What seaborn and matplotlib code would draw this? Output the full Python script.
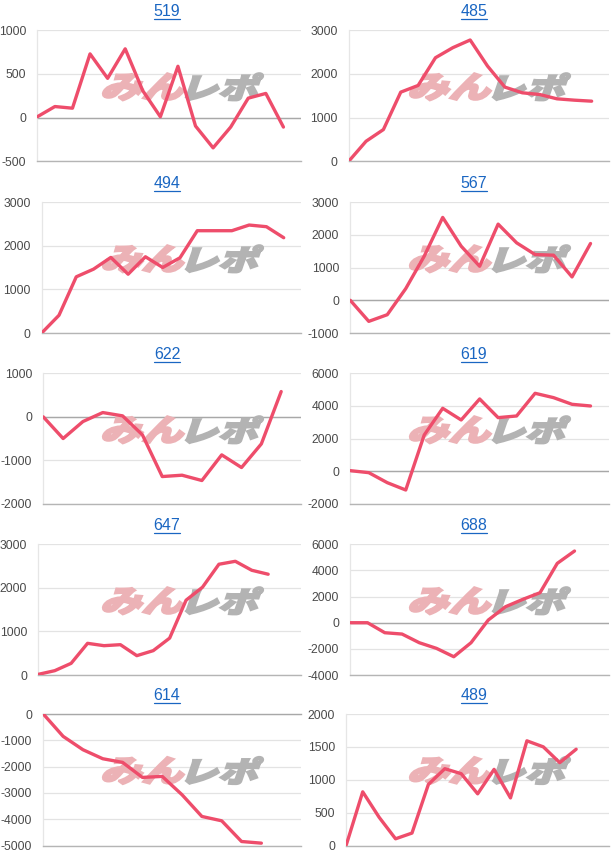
import numpy as np
import pandas as pd
import matplotlib
matplotlib.use("Agg")
import matplotlib.pyplot as plt
import seaborn as sns
from matplotlib.textpath import TextPath
from matplotlib.patches import PathPatch
from matplotlib.font_manager import FontProperties
from matplotlib.transforms import Affine2D
from matplotlib.lines import Line2D

# ---------------- data ----------------
titles = ["519", "485", "494", "567", "622", "619", "647", "688", "614", "489"]

v519 = [10, 127, 108, 730, 450, 788, 308, 10, 588, -96, -346, -108, 223, 277, -108]
v485 = [0, 459, 727, 1584, 1737, 2372, 2602, 2778, 2181, 1699, 1569, 1530, 1431, 1400, 1377]
v494 = [0, 407, 1290, 1466, 1735, 1350, 1750, 1504, 1727, 2348, 2348, 2348, 2478, 2440, 2187]
v567 = [0, -644, -440, 358, 1350, 2537, 1657, 1043, 2332, 1760, 1401, 1381, 716, 1739]
v622 = [0, -497, -107, 99, 23, -413, -1370, -1339, -1461, -872, -1163, -620, 581]
v619 = [41, -82, -694, -1143, 2224, 3857, 3143, 4429, 3286, 3388, 4776, 4510, 4102, 4000]
v647 = [15, 99, 268, 727, 673, 696, 444, 559, 847, 1717, 2015, 2542, 2610, 2404, 2313]
v688 = [0, 0, -765, -867, -1530, -1964, -2602, -1530, 204, 1224, 1786, 2296, 4541, 5485]
v614 = [0, -850, -1358, -1701, -1840, -2411, -2373, -3071, -3896, -4061, -4848, -4911]
v489 = [10, 816, 429, 102, 189, 929, 1168, 1092, 786, 1158, 724, 1592, 1500, 1260, 1464]
series = [v519, v485, v494, v567, v622, v619, v647, v688, v614, v489]

x_slots = [15, 15, 15, 14, 13, 14, 16, 15, 13, 16]
y_min = [-500, 0, 0, -1000, -2000, -2000, 0, -4000, -5000, 0]
y_max = [1000, 3000, 3000, 3000, 1000, 6000, 3000, 6000, 0, 2000]
y_step = [500, 1000, 1000, 1000, 1000, 2000, 1000, 2000, 1000, 500]

# ---------------- layout (pixels) ----------------
W, H = 614, 855
ax_left = [37.3, 348.7, 41.7, 350.3, 43.3, 350.3, 38.3, 350.3, 43.3, 346.3]
ax_right = [301, 609]
row_top = [30.3, 202.3, 373.3, 544.3, 714.0]
row_bot = [161.3, 333.0, 504.0, 675.0, 845.5]

LINE = "#ee4d6b"
TITLE = "#1a66c2"
TICK = "#4a4a4a"
PINK = "#ecb2b6"
GRAY = "#b3b3b3"

sns.set_theme(style="white")
plt.rcParams["font.family"] = ["Liberation Sans", "DejaVu Sans"]

fig = plt.figure(figsize=(W / 100, H / 100), dpi=100)
fig.patch.set_facecolor("white")

fp = FontProperties(family="Noto Sans CJK JP", weight="heavy")


def wm_patch(s, x0, x1, ytop, ybot, color, skew=14):
    p = TextPath((0, 0), s, size=1, prop=fp)
    p = p.transformed(Affine2D().skew_deg(skew, 0))
    ext = p.get_extents()
    sx = (x1 - x0) / ext.width
    sy = (ybot - ytop) / ext.height
    tr = Affine2D().translate(-ext.x0, -ext.y0).scale(sx, sy).translate(x0, H - ybot)
    p = p.transformed(tr)
    patch = PathPatch(p, facecolor=color, edgecolor=color, linewidth=1.6,
                      joinstyle="miter",
                      transform=Affine2D().scale(1 / W, 1 / H) + fig.transFigure,
                      zorder=1.5, clip_on=False)
    return patch


title_texts = []
for i, (t, vals) in enumerate(zip(titles, series)):
    r, c = divmod(i, 2)
    left = ax_left[i]
    right = ax_right[c]
    top = row_top[r]
    bot = row_bot[r]
    ax = fig.add_axes([left / W, 1 - bot / H, (right - left) / W, (bot - top) / H])
    df = pd.DataFrame({"x": np.arange(len(vals)), "y": vals})
    sns.lineplot(data=df, x="x", y="y", ax=ax, color=LINE, linewidth=2.4, zorder=3)
    ax.set_xlim(0, x_slots[i])
    ax.set_ylim(y_min[i], y_max[i])
    ticks = np.arange(y_min[i], y_max[i] + 1, y_step[i])
    ax.set_yticks(ticks)
    ax.set_yticklabels([str(int(v)) for v in ticks])
    ax.set_xticks([])
    ax.set_xlabel("")
    ax.set_ylabel("")
    ax.tick_params(axis="y", length=0, pad=8, labelsize=8.7, labelcolor=TICK)
    ax.yaxis.grid(True, color="#e3e3e3", linewidth=0.9)
    ax.set_axisbelow(True)
    for s in ["top", "right"]:
        ax.spines[s].set_visible(False)
    ax.spines["left"].set_color("#e6e6e6")
    ax.spines["left"].set_linewidth(0.9)
    ax.spines["bottom"].set_color("#b5b5b5")
    ax.spines["bottom"].set_linewidth(1.0)
    if y_min[i] < 0 < y_max[i]:
        ax.axhline(0, color="#a8a8a8", linewidth=1.0, zorder=1)
    if y_max[i] == 0:
        ax.spines["top"].set_visible(True)
        ax.spines["top"].set_color("#a8a8a8")
        ax.spines["top"].set_linewidth(1.0)

    # watermark
    cx = c * 307
    ax.add_patch(wm_patch("みん", cx + 103, cx + 184, top + 43, top + 70, PINK))
    ax.add_patch(wm_patch("レポ", cx + 186, cx + 263, top + 43, top + 70, GRAY))
    ax.set_xlim(0, x_slots[i])
    ax.set_ylim(y_min[i], y_max[i])

    # title
    tx = cx + 167
    ty = top - 18.5
    tt = fig.text(tx / W, 1 - ty / H, t, ha="center", va="center",
                  fontsize=11.5, color=TITLE)
    title_texts.append((tt, ty))

fig.canvas.draw()
for tt, ty in title_texts:
    bb = tt.get_window_extent()
    yline = (H - ty - 7.3) / H
    fig.add_artist(Line2D([bb.x0 / W, bb.x1 / W], [yline, yline],
                          color=TITLE, linewidth=0.9, transform=fig.transFigure))

fig.savefig("out.png", dpi=100, facecolor="white")
